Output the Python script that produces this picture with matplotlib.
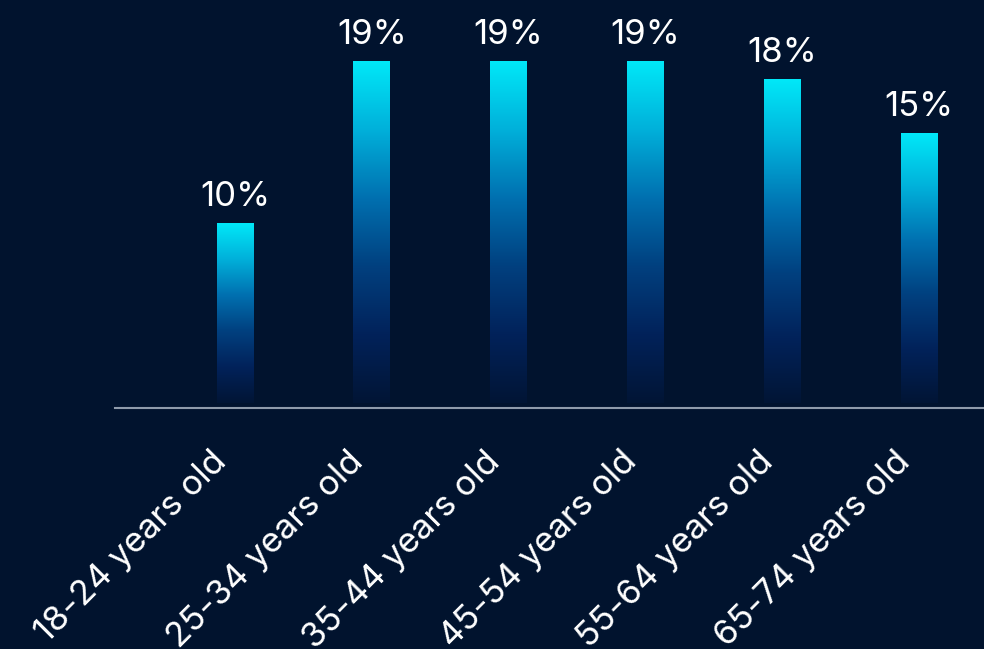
import numpy as np
import matplotlib
matplotlib.use('Agg')
import matplotlib.pyplot as plt
from matplotlib.colors import LinearSegmentedColormap
from matplotlib.transforms import ScaledTranslation

plt.rcParams['font.family'] = ['Inter', 'DejaVu Sans']

age_groups = ['18-24 years old', '25-34 years old', '35-44 years old',
              '45-54 years old', '55-64 years old', '65-74 years old']
shares = [10, 19, 19, 19, 18, 15]

bg = '#01132e'
# cyan at the top of each bar fading down into the background
bar_cmap = LinearSegmentedColormap.from_list(
    'bar_fade', [(0.0, '#011535'), (0.2, '#02225a'), (0.4, '#01407f'),
                 (0.6, '#0070b0'), (0.8, '#00b0da'), (1.0, '#00e8f8')])

fig = plt.figure(figsize=(9.84, 6.49), dpi=100, facecolor=bg)
ax = fig.add_axes([0.117, 0.3713, 0.883, 0.6287], facecolor=bg)

bar_w = 0.27
grad = np.linspace(0, 1, 256).reshape(-1, 1)
for i, v in enumerate(shares):
    ax.imshow(grad, cmap=bar_cmap, origin='lower', aspect='auto',
              extent=(i - bar_w / 2, i + bar_w / 2, 0, v), zorder=2)
    ax.text(i, v + 0.55, f'{v}%', ha='center', va='bottom',
            color='white', fontsize=25)

ax.set_xlim(-0.877, 5.475)
ax.set_ylim(-0.3, 22.4)

for side in ['top', 'right', 'left']:
    ax.spines[side].set_visible(False)
ax.spines['bottom'].set_color('#8f9bab')
ax.spines['bottom'].set_linewidth(1.5)

ax.set_yticks([])
ax.set_xticks(range(len(age_groups)))
ax.set_xticklabels(age_groups, rotation=45, ha='right', rotation_mode='anchor',
                   color='white', fontsize=25)
ax.tick_params(axis='x', length=0, pad=27)
# nudge the slanted labels to the left
shift = ScaledTranslation(-25 / 100, 0, fig.dpi_scale_trans)
for lbl in ax.get_xticklabels():
    lbl.set_transform(lbl.get_transform() + shift)

fig.savefig('out.png', dpi=100, facecolor=bg)
